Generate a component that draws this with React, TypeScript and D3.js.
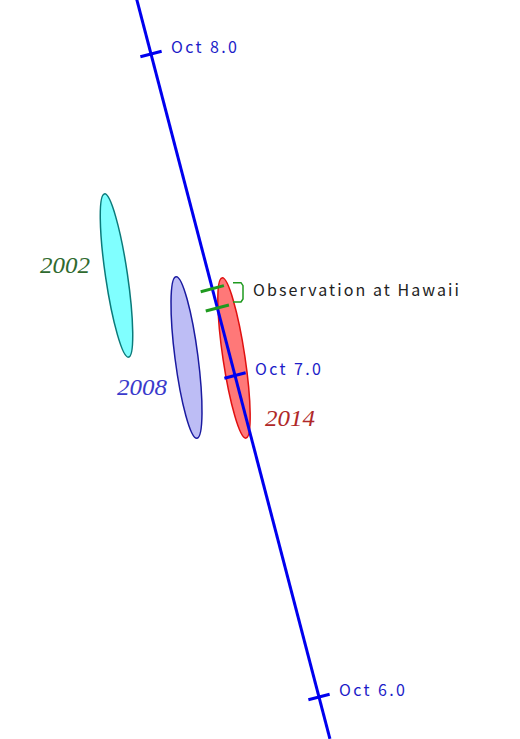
import React from "react";
import * as d3 from "d3";

const W = 520;
const H = 739;

// orbit track: time (days of October) -> screen position
const trackDays = [8.17, 5.87];
const tickDays = [8.0, 7.0, 6.0];
const tickLabels = ["Oct 8.0", "Oct 7.0", "Oct 6.0"];

// uncertainty ellipses (picture units)
const years = ["2002", "2008", "2014"];
const ellipseCx = [116.5, 186.5, 234];
const ellipseCy = [275.5, 357.5, 358];
const ellipseRx = [11, 11.5, 11];
const ellipseRy = [82.5, 81.5, 81];
const ellipseTilt = [-8.4, -7.4, -8.5];
const ellipseFill = ["#80ffff", "#bdbdf5", "#ff7878"];
const ellipseStroke = ["#0a7a7a", "#1a1aa0", "#e01010"];
const yearLabelX = [40, 117, 265];
const yearLabelY = [273, 395, 426];
const yearColor = ["#2f6a2f", "#3a3acc", "#b02828"];

// observation at Hawaii: start and end time on the track
const obsDays = [7.27, 7.21];

const App = () => {
  const x = d3.scaleLinear().domain([8, 6]).range([151, 319]);
  const y = d3.scaleLinear().domain([8, 6]).range([54, 697]);

  const dx = x(6) - x(8);
  const dy = y(6) - y(8);
  const len = Math.hypot(dx, dy);
  const px = dy / len; // perpendicular
  const py = -dx / len;

  const line = d3.line<number>().x((d) => x(d)).y((d) => y(d));

  const tickHalf = 11;
  const obsHalf = 12;

  const bx = 241;
  const by0 = y(obsDays[0]) - 6;
  const by1 = y(obsDays[1]) - 6;

  return (
    <svg
      width={W}
      height={H}
      style={{ position: "absolute", left: 0, top: 0, background: "#fff" }}
    >
      {years.map((yr, i) => (
        <ellipse
          key={yr}
          cx={ellipseCx[i]}
          cy={ellipseCy[i]}
          rx={ellipseRx[i]}
          ry={ellipseRy[i]}
          transform={`rotate(${ellipseTilt[i]} ${ellipseCx[i]} ${ellipseCy[i]})`}
          fill={ellipseFill[i]}
          stroke={ellipseStroke[i]}
          strokeWidth={1.5}
        />
      ))}
      {years.map((yr, i) => (
        <text
          key={"l" + yr}
          x={yearLabelX[i]}
          y={yearLabelY[i]}
          fill={yearColor[i]}
          fontFamily="'Liberation Serif', serif"
          fontStyle="italic"
          fontSize={23}
          textLength={50}
          lengthAdjust="spacingAndGlyphs"
        >
          {yr}
        </text>
      ))}

      <path d={line(trackDays) ?? ""} stroke="#0000ee" strokeWidth={3} fill="none" />

      {tickDays.map((t, i) => (
        <g key={t}>
          <line
            x1={x(t) - px * tickHalf}
            y1={y(t) - py * tickHalf}
            x2={x(t) + px * tickHalf}
            y2={y(t) + py * tickHalf}
            stroke="#0000ee"
            strokeWidth={3}
          />
          <text
            x={x(t) + 20}
            y={y(t) - 1}
            fill="#1c1cc8"
            fontFamily="'Noto Sans CJK JP', sans-serif"
            fontSize={16}
            textLength={66}
            lengthAdjust="spacing"
          >
            {tickLabels[i]}
          </text>
        </g>
      ))}

      {obsDays.map((t) => (
        <line
          key={t}
          x1={x(t) - px * obsHalf}
          y1={y(t) - py * obsHalf}
          x2={x(t) + px * obsHalf}
          y2={y(t) + py * obsHalf}
          stroke="#1f9a1f"
          strokeWidth={3}
        />
      ))}
      <path
        d={`M${bx - 8},${by0} L${bx},${by0} L${bx + 2},${by0 + 3} L${bx + 2},${by1 - 3} L${bx},${by1} L${bx - 8},${by1}`}
        stroke="#1f9a1f"
        strokeWidth={1.5}
        fill="none"
      />
      <text
        x={253}
        y={296}
        fill="#222"
        fontFamily="'Noto Sans CJK JP', sans-serif"
        fontSize={16}
        textLength={206}
        lengthAdjust="spacing"
      >
        Observation at Hawaii
      </text>
    </svg>
  );
};

export default App;
